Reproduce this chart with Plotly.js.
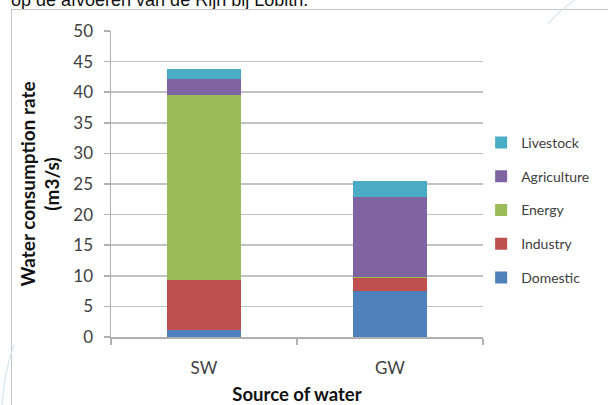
<!DOCTYPE html>
<html>
<head>
<meta charset="utf-8">
<script src="https://cdn.plot.ly/plotly-3.0.1.min.js"></script>
<style>
  html, body { margin:0; padding:0; background:#fff; }
  #wrap { position:relative; width:608px; height:405px; overflow:hidden; background:#fff; }
  #caption { position:absolute; left:11px; top:-9px; font-family:"Liberation Sans", Arial, sans-serif; font-size:18px; line-height:18px; color:#111; white-space:nowrap; }
  #frame { position:absolute; left:11px; top:9px; width:620px; height:420px; border-left:1px solid #c6c6c6; border-top:1px solid #c6c6c6; }
  #deco { position:absolute; left:0; top:0; }
  #chart { position:absolute; left:0; top:0; width:608px; height:405px; }
</style>
</head>
<body>
<div id="wrap">
  <div id="caption">op de afvoeren van de Rijn bij Lobith.</div>
  <div id="frame"></div>
  <svg id="deco" width="608" height="405">
    <path d="M575,0 Q560,10 548,24" stroke="#d6e6f2" stroke-width="1.2" fill="none"/>
    <path d="M14,345 Q4,372 2,405" stroke="#d6e6f2" stroke-width="1.2" fill="none"/>
  </svg>
  <div id="chart"></div>
</div>
<script>
// Data
const sources = ["SW", "GW"];
const domestic    = [1.2, 7.5];
const industry    = [8.1, 2.15];
const energy      = [30.3, 0.1];
const agriculture = [2.5, 13.1];
const livestock   = [1.7, 2.7];

const seriesNames  = ["Domestic", "Industry", "Energy", "Agriculture", "Livestock"];
const seriesValues = [domestic, industry, energy, agriculture, livestock];
const seriesColors = ["#4F81BD", "#C0504D", "#9BBB59", "#8064A2", "#4BACC6"];

const traces = seriesNames.map((name, i) => ({
  type: "bar",
  name: name,
  x: sources,
  y: seriesValues[i],
  legendgroup: name,
  legendrank: seriesNames.length - i,
  marker: { color: seriesColors[i], line: { width: 0 } },
  hoverinfo: "x+y+name"
}));

const fontFam = "Lato, 'Open Sans', sans-serif";

const layout = {
  width: 608,
  height: 405,
  paper_bgcolor: "rgba(0,0,0,0)",
  plot_bgcolor: "rgba(0,0,0,0)",
  barmode: "stack",
  bargap: 0.6,
  margin: { l: 111, r: 125, t: 31, b: 68, pad: 0 },
  font: { family: fontFam, size: 14, color: "#404040" },
  showlegend: true,
  legend: {
    x: 0.995, xanchor: "left",
    y: 0.415, yanchor: "middle",
    traceorder: "grouped",
    tracegroupgap: 12.5,
    font: { family: fontFam, size: 14, color: "#404040" },
    bgcolor: "rgba(0,0,0,0)",
    borderwidth: 0
  },
  xaxis: {
    type: "category",
    showline: true,
    linecolor: "#b0b0b0",
    linewidth: 1.5,
    ticks: "outside",
    tickson: "boundaries",
    ticklen: 6,
    tickcolor: "#b0b0b0",
    tickwidth: 1.5,
    ticklabelstandoff: 15,
    tickfont: { family: fontFam, size: 17, color: "#404040" },
    showgrid: false,
    zeroline: false,
    title: { text: "<b>Source of water</b>", font: { family: fontFam, size: 18.5, color: "#111" }, standoff: 13 }
  },
  yaxis: {
    range: [0, 50],
    dtick: 5,
    showline: true,
    linecolor: "#b0b0b0",
    linewidth: 1.5,
    ticks: "outside",
    ticklen: 6,
    tickcolor: "#b0b0b0",
    tickwidth: 1.5,
    ticklabelstandoff: 7,
    tickfont: { family: fontFam, size: 17, color: "#404040" },
    showgrid: true,
    gridcolor: "#c2c2c2",
    gridwidth: 1.5,
    zeroline: false,
    title: { text: "<b>Water consumption rate<br>(m3/s)</b>", font: { family: fontFam, size: 19, color: "#111" }, standoff: 8 }
  }
};

Plotly.newPlot("chart", traces, layout, { staticPlot: true, displayModeBar: false });
</script>
</body>
</html>
